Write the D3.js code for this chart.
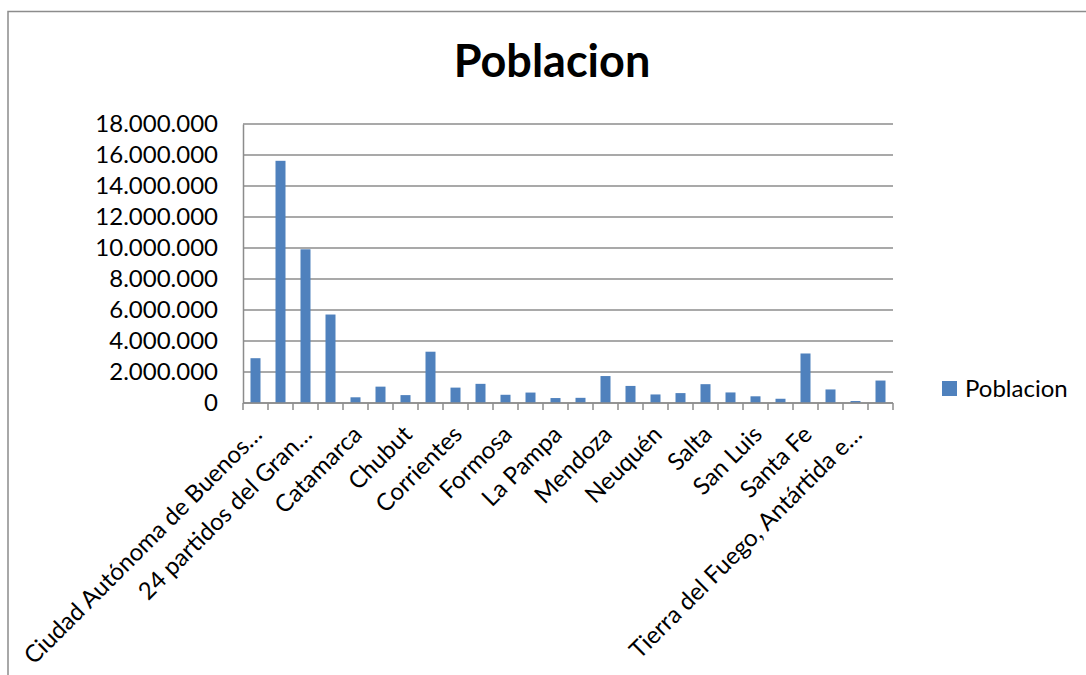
<!DOCTYPE html>
<html>
<head>
<meta charset="utf-8">
<script src="https://cdn.jsdelivr.net/npm/d3@7"></script>
<style>
  body { margin: 0; background: #fff; }
  svg { font-family: Lato, "Open Sans", sans-serif; }
</style>
</head>
<body>
<script>
// categories (as labelled in the chart; Excel shows every other label)
var categories = [
  "Ciudad Autónoma de Buenos…", "Buenos Aires", "24 partidos del Gran…",
  "Interior de la provincia de Buenos Aires", "Catamarca", "Chaco", "Chubut",
  "Córdoba", "Corrientes", "Entre Ríos", "Formosa", "Jujuy", "La Pampa",
  "La Rioja", "Mendoza", "Misiones", "Neuquén", "Río Negro", "Salta",
  "San Juan", "San Luis", "Santa Cruz", "Santa Fe", "Santiago del Estero",
  "Tierra del Fuego, Antártida e…", "Tucumán"
];
var poblacion = [
  2890151, 15625084, 9916715, 5708369, 367828, 1055259, 509108,
  3308876, 992595, 1235994, 530162, 673307, 318951,
  333642, 1738929, 1101593, 551266, 638645, 1214441,
  681055, 432310, 273964, 3194537, 874006,
  127205, 1448188
];
var yTicks = [0, 2e6, 4e6, 6e6, 8e6, 10e6, 12e6, 14e6, 16e6, 18e6];
var seriesName = "Poblacion";

var W = 1086, H = 675;
var m = { left: 243, right: 193, top: 124, bottom: 272 };

var svg = d3.select("body").append("svg").attr("width", W).attr("height", H);

// chart frame
svg.append("path")
  .attr("d", "M8," + H + "V11.5H" + W)
  .attr("fill", "none").attr("stroke", "#8c8c8c").attr("stroke-width", 1.5);

svg.append("text")
  .attr("x", 552).attr("y", 77)
  .attr("text-anchor", "middle")
  .attr("font-weight", "bold").attr("font-size", 45)
  .text("Poblacion");

var x = d3.scaleBand().domain(categories).range([m.left, W - m.right]);
var y = d3.scaleLinear().domain([0, 18e6]).range([H - m.bottom, m.top]);

var fmt = function (v) { return d3.format(",")(v).replace(/,/g, "."); };

// gridlines
svg.append("g").selectAll("line").data(yTicks).enter().append("line")
  .attr("x1", m.left).attr("x2", W - m.right)
  .attr("y1", function (d) { return y(d); }).attr("y2", function (d) { return y(d); })
  .attr("stroke", "#8c8c8c").attr("stroke-width", 1.5);

// y axis
var ya = svg.append("g").attr("transform", "translate(" + m.left + ",0)")
  .call(d3.axisLeft(y).tickValues(yTicks).tickFormat(fmt).tickSize(0).tickPadding(25));
ya.select(".domain").attr("stroke", "#8c8c8c").attr("stroke-width", 1.5);
ya.selectAll("text").attr("font-size", 24).attr("fill", "#000")
  .attr("font-family", "Lato, sans-serif");

// bars
var bw = 10;
svg.append("g").selectAll("rect").data(poblacion).enter().append("rect")
  .attr("x", function (d, i) { return x(categories[i]) + x.bandwidth() / 2 - bw / 2; })
  .attr("y", function (d) { return y(d); })
  .attr("width", bw)
  .attr("height", function (d) { return y(0) - y(d); })
  .attr("fill", "#4f81bd");

// x axis
var y0 = y(0);
var xa = svg.append("g");
xa.append("line").attr("x1", m.left).attr("x2", W - m.right)
  .attr("y1", y0).attr("y2", y0).attr("stroke", "#8c8c8c").attr("stroke-width", 1.5);
var edges = categories.map(function (c) { return x(c); }).concat([W - m.right]);
xa.selectAll(".tk").data(edges).enter().append("line")
  .attr("x1", function (d) { return d; }).attr("x2", function (d) { return d; })
  .attr("y1", y0).attr("y2", y0 + 7)
  .attr("stroke", "#8c8c8c").attr("stroke-width", 1.5);
xa.selectAll("text").data(categories.filter(function (c, i) { return i % 2 === 0; }))
  .enter().append("text")
  .attr("transform", function (d) {
    return "translate(" + (x(d) + x.bandwidth() / 2 + 8) + "," + (y0 + 33) + ") rotate(-45)";
  })
  .attr("text-anchor", "end")
  .attr("font-size", 24)
  .text(function (d) { return d; });

// legend
svg.append("rect").attr("x", 942).attr("y", 381).attr("width", 15).attr("height", 15)
  .attr("fill", "#4f81bd");
svg.append("text").attr("x", 965).attr("y", 397).attr("font-size", 24).text(seriesName);
</script>
</body>
</html>
